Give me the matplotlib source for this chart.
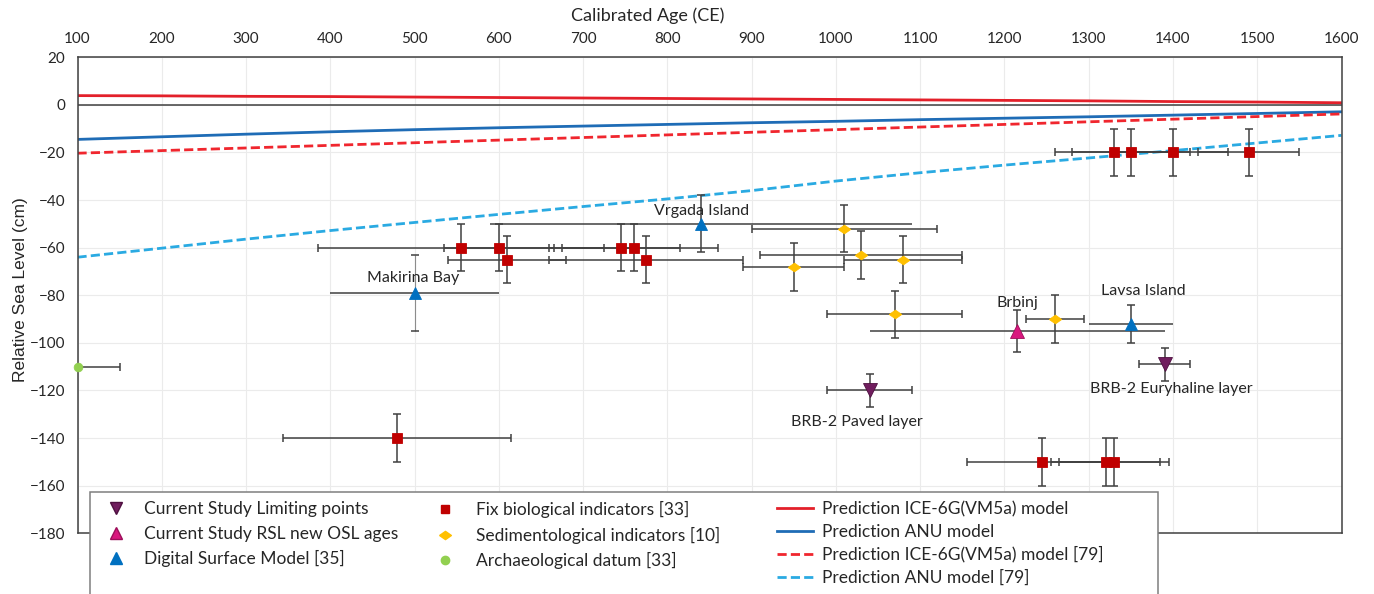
import matplotlib
matplotlib.use("Agg")
import matplotlib.pyplot as plt
from matplotlib.lines import Line2D
from matplotlib.patches import Rectangle

plt.rcParams['font.family'] = ['Lato', 'DejaVu Sans']

# ---------------- data ----------------
x_ticks = [100, 200, 300, 400, 500, 600, 700, 800, 900, 1000, 1100, 1200, 1300, 1400, 1500, 1600]
y_ticks = [20, 0, -20, -40, -60, -80, -100, -120, -140, -160, -180]

model_years = [100, 200, 300, 400, 500, 600, 700, 800, 900, 1000, 1100, 1200, 1300, 1400, 1500, 1600]
ice6g = [3.9, 3.8, 3.6, 3.5, 3.3, 3.1, 2.9, 2.7, 2.5, 2.3, 2.1, 1.9, 1.7, 1.4, 1.2, 0.9]
anu = [-14.5, -13.4, -12.3, -11.3, -10.4, -9.6, -8.9, -8.2, -7.5, -6.9, -6.2, -5.6, -5.0, -4.3, -3.6, -2.9]
ice6g_79 = [-20.3, -19.2, -18.1, -17.0, -15.9, -14.8, -13.7, -12.6, -11.5, -10.4, -9.3, -8.2, -7.1, -6.0, -4.9, -3.8]
anu_79 = [-64.0, -60.2, -56.4, -52.8, -49.4, -46.0, -42.7, -39.5, -36.0, -32.0, -28.5, -25.3, -22.3, -19.2, -16.0, -12.8]

# Fix biological indicators [33]
bio_age = [555, 600, 745, 760, 610, 775, 1330, 1350, 1400, 1490, 479, 1245, 1320, 1330]
bio_rsl = [-60, -60, -60, -60, -65, -65, -20, -20, -20, -20, -140, -150, -150, -150]
bio_age_err = [170, 65, 70, 100, 70, 115, 70, 70, 65, 60, 135, 90, 65, 65]
bio_rsl_err = [10, 10, 10, 10, 10, 10, 10, 10, 10, 10, 10, 10, 10, 10]

# Sedimentological indicators [10]
sed_age = [950, 1010, 1030, 1080, 1070, 1260]
sed_rsl = [-68, -52, -63, -65, -88, -90]
sed_age_err = [60, 110, 120, 70, 80, 35]
sed_rsl_err = [10, 10, 10, 10, 10, 10]

# Archaeological datum [33]
arch_age = [100]
arch_rsl = [-110]
arch_age_err = [50]

# Digital Surface Model [35]
dsm_names = ["Makirina Bay", "Vrgada Island", "Lavsa Island"]
dsm_age = [500, 840, 1350]
dsm_rsl = [-79, -50, -92]
dsm_age_err = [100, 250, 50]
dsm_rsl_err = [16, 12, 8]

# Current Study RSL new OSL ages
osl_names = ["Brbinj"]
osl_age = [1215]
osl_rsl = [-95]
osl_age_err = [175]
osl_rsl_err = [9]

# Current Study Limiting points
lim_names = ["BRB-2 Paved layer", "BRB-2 Euryhaline layer"]
lim_age = [1040, 1390]
lim_rsl = [-120, -109]
lim_age_err = [50, 30]
lim_rsl_err = [7, 7]

# label offsets (points)
dsm_label_off = [(-1, 10.5), (0, 9.5), (9, 23.5)]
osl_label_off = [(0, 20)]
lim_label_off = [(-9, -22.5), (5, -17.5)]

# ---------------- style ----------------
C_RED_LINE = '#E3202A'
C_BLUE_LINE = '#1F6CB6'
C_RED_DASH = '#F0262E'
C_LBLUE_DASH = '#2AAAE2'
C_SQ = '#C00000'
C_DIA = '#FFC000'
C_GREEN = '#92D050'
C_DSM = '#0070C0'
C_OSL = '#D9177E'
C_LIM = '#701D5E'
C_ERR = '#404040'
DASH = (3.3, 1.5)

diamond = [(-1, 0), (0, 0.7), (1, 0), (0, -0.7), (-1, 0)]

fig = plt.figure(figsize=(13.74, 5.94), dpi=100)
W, H = 1374.0, 594.0
ax = fig.add_axes([77.5 / W, 1 - 533.3 / H, (1341.5 - 77.5) / W, (533.3 - 57.3) / H])
ax.set_xlim(100, 1600)
ax.set_ylim(-180, 20)
ax.set_xticks(x_ticks)
ax.set_yticks(y_ticks)
ax.xaxis.tick_top()
ax.tick_params(axis='x', length=0, pad=8, labelsize=11, labelcolor='#262626')
ax.tick_params(axis='y', length=0, pad=9, labelsize=11, labelcolor='#262626')
ax.grid(True, color='#EBEBEB', lw=0.8, zorder=0)
ax.set_axisbelow(True)
for s in ax.spines.values():
    s.set_color('#404040')
    s.set_linewidth(1.1)
ax.axhline(0, color='#404040', lw=1.1, zorder=1)

# model lines
ax.plot(model_years, ice6g, color=C_RED_LINE, lw=2.0, zorder=2)
ax.plot(model_years, anu, color=C_BLUE_LINE, lw=2.0, zorder=2)
ax.plot(model_years, ice6g_79, color=C_RED_DASH, lw=2.0, dashes=DASH, zorder=2)
ax.plot(model_years, anu_79, color=C_LBLUE_DASH, lw=2.0, dashes=DASH, zorder=2)

ekw = dict(fmt='none', ecolor=C_ERR, elinewidth=1.1, capthick=1.1, zorder=3)
# biological
ax.errorbar(bio_age, bio_rsl, xerr=bio_age_err, yerr=bio_rsl_err, capsize=2.6, **ekw)
# sedimentological
ax.errorbar(sed_age, sed_rsl, xerr=sed_age_err, yerr=sed_rsl_err, capsize=2.6, **ekw)
# archaeological
ax.errorbar(arch_age, arch_rsl, xerr=arch_age_err, capsize=2.6, **ekw)
# DSM: horizontal without caps, vertical with caps
ax.errorbar(dsm_age, dsm_rsl, xerr=dsm_age_err, capsize=0, **ekw)
eb = ax.errorbar(dsm_age, dsm_rsl, yerr=dsm_rsl_err, capsize=2.6, **ekw)
eb.lines[2][0].set_colors(['#8C8C8C', C_ERR, C_ERR])
eb.lines[2][0].set_linewidths([0.8, 1.1, 1.1])
for cl in eb.lines[1]:
    cl.set_color('#555555')
# OSL
ax.errorbar(osl_age, osl_rsl, xerr=osl_age_err, capsize=0, **ekw)
ax.errorbar(osl_age, osl_rsl, yerr=osl_rsl_err, capsize=2.6, **ekw)
# limiting
ax.errorbar(lim_age, lim_rsl, xerr=lim_age_err, yerr=lim_rsl_err, capsize=2.6, **ekw)

mk = dict(ls='none', zorder=4, mew=0.6)
ax.plot(bio_age, bio_rsl, marker='s', ms=6.6, color=C_SQ, mec=C_SQ, **mk)
ax.plot(sed_age, sed_rsl, marker=diamond, ms=9, color=C_DIA, mec=C_DIA, **mk)
ax.plot(arch_age, arch_rsl, marker='o', ms=6.2, color=C_GREEN, mec=C_GREEN, clip_on=False, **mk)
ax.plot(dsm_age, dsm_rsl, marker='^', ms=9, color=C_DSM, mec=C_DSM, **mk)
ax.plot(osl_age, osl_rsl, marker='^', ms=9.5, color=C_OSL, mec='#9C0F5A', **mk)
ax.plot(lim_age, lim_rsl, marker='v', ms=9.5, color=C_LIM, mec='#4E1040', **mk)

tk = dict(textcoords='offset points', ha='center', va='center', fontsize=11.5, color='#262626', zorder=5)
for n, x, y, o in zip(dsm_names, dsm_age, dsm_rsl, dsm_label_off):
    ax.annotate(n, (x, y), xytext=o, **tk)
for n, x, y, o in zip(osl_names, osl_age, osl_rsl, osl_label_off):
    ax.annotate(n, (x, y), xytext=o, **tk)
for n, x, y, o in zip(lim_names, lim_age, lim_rsl, lim_label_off):
    ax.annotate(n, (x, y), xytext=o, **tk)

# axis titles
fig.text(648 / W, 1 - 16 / H, "Calibrated Age (CE)", ha='center', va='center', fontsize=13, color='#262626')
fig.text(21 / W, 1 - 290 / H, "Relative Sea Level (cm)", ha='center', va='center', rotation=90,
         fontsize=12.5, color='#262626', family=['Liberation Sans', 'DejaVu Sans'])

# legend frame
fig.patches.append(Rectangle((90 / W, -0.1), (1158 - 90) / W, 0.1 + 1 - 491.7 / H,
                             transform=fig.transFigure, facecolor='white', edgecolor='#7F7F7F',
                             lw=1.1, zorder=3))

h1 = [Line2D([], [], ls='none', marker='v', ms=9, color=C_LIM, mec='#4E1040'),
      Line2D([], [], ls='none', marker='^', ms=9, color=C_OSL, mec='#9C0F5A'),
      Line2D([], [], ls='none', marker='^', ms=8.5, color=C_DSM, mec=C_DSM)]
l1 = ["Current Study Limiting points", "Current Study RSL new OSL ages", "Digital Surface Model [35]"]
h2 = [Line2D([], [], ls='none', marker='s', ms=6.4, color=C_SQ, mec=C_SQ),
      Line2D([], [], ls='none', marker=diamond, ms=8.5, color=C_DIA, mec=C_DIA),
      Line2D([], [], ls='none', marker='o', ms=6, color=C_GREEN, mec=C_GREEN)]
l2 = ["Fix biological indicators [33]", "Sedimentological indicators [10]", "Archaeological datum [33]"]
h3 = [Line2D([], [], color=C_RED_LINE, lw=2.0),
      Line2D([], [], color=C_BLUE_LINE, lw=2.0),
      Line2D([], [], color=C_RED_DASH, lw=2.0, dashes=DASH),
      Line2D([], [], color=C_LBLUE_DASH, lw=2.0, dashes=DASH)]
l3 = ["Prediction ICE-6G(VM5a) model", "Prediction ANU model",
      "Prediction ICE-6G(VM5a) model [79]", "Prediction ANU model [79]"]

FS = 12.5
fpx = FS / 0.72
lk = dict(loc='upper left', frameon=False, borderpad=0, borderaxespad=0, fontsize=FS,
          labelcolor='#262626')
leg1 = fig.legend(h1, l1, bbox_to_anchor=(101 / W, 1 - 501 / H), handlelength=30 / fpx,
                  handletextpad=13 / fpx, labelspacing=0.5, **lk)
leg2 = fig.legend(h2, l2, bbox_to_anchor=(430 / W, 1 - 501 / H), handlelength=30 / fpx,
                  handletextpad=16 / fpx, labelspacing=0.5, **lk)
leg3 = fig.legend(h3, l3, bbox_to_anchor=(777 / W, 1 - 501 / H), handlelength=36 / fpx,
                  handletextpad=9 / fpx, labelspacing=0.38, **lk)
for lg in (leg1, leg2, leg3):
    lg.set_zorder(6)

fig.savefig("out.png", dpi=100)
